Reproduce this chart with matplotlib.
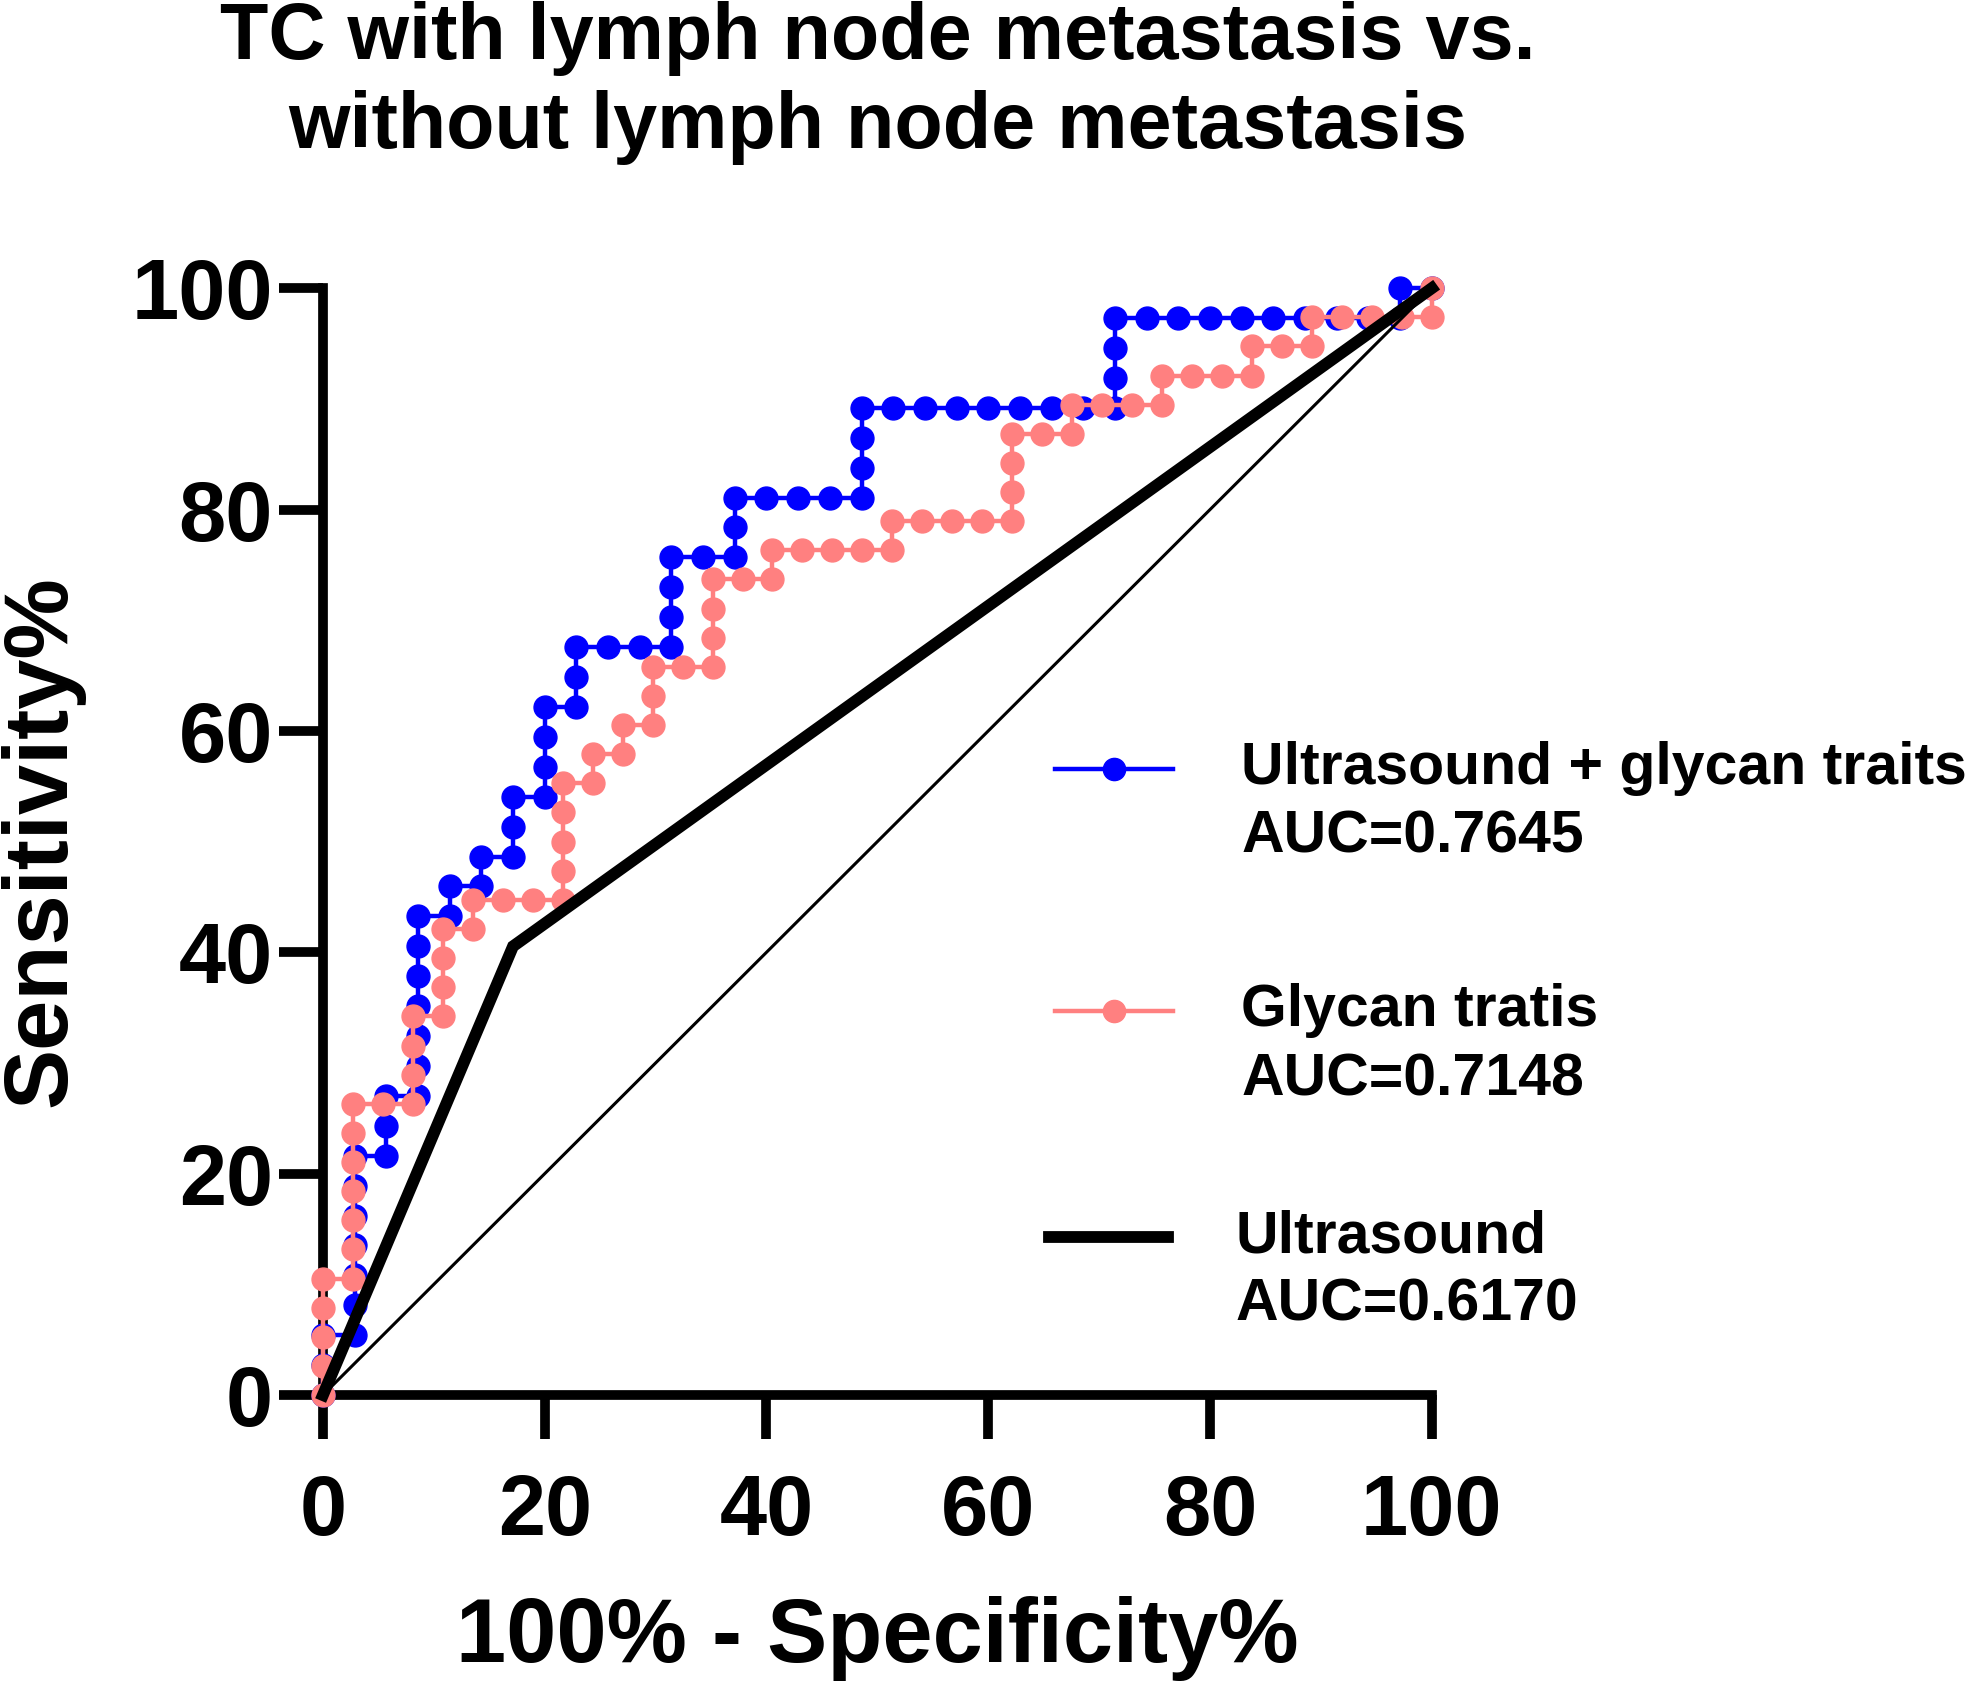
import matplotlib
matplotlib.use("Agg")
import matplotlib.pyplot as plt
from matplotlib.lines import Line2D
import numpy as np

plt.rcParams['font.family'] = ['Liberation Sans', 'DejaVu Sans']
plt.rcParams['font.weight'] = 'bold'

# ROC points as counts (false positives, true positives)
combo_neg = 35
combo_pos = 37
combo_fp = [0, 0, 0, 1, 1, 1, 1, 1, 1, 1, 2, 2, 2, 3, 3, 3, 3, 3, 3, 3, 4, 4, 5, 5,
            6, 6, 6, 7, 7, 7, 7, 8, 8, 8, 9, 10, 11, 11, 11, 11, 12, 13, 13, 13,
            14, 15, 16, 17, 17, 17, 17, 18, 19, 20, 21, 22, 23, 24, 25, 25, 25, 25,
            26, 27, 28, 29, 30, 31, 32, 33, 34, 34, 35]
combo_tp = [0, 1, 2, 2, 3, 4, 5, 6, 7, 8, 8, 9, 10, 10, 11, 12, 13, 14, 15, 16, 16, 17, 17, 18,
            18, 19, 20, 20, 21, 22, 23, 23, 24, 25, 25, 25, 25, 26, 27, 28, 28, 28, 29, 30,
            30, 30, 30, 30, 31, 32, 33, 33, 33, 33, 33, 33, 33, 33, 33, 34, 35, 36,
            36, 36, 36, 36, 36, 36, 36, 36, 36, 37, 37]

glycan_neg = 37
glycan_pos = 38
glycan_fp = [0, 0, 0, 0, 0, 1, 1, 1, 1, 1, 1, 1, 2, 3, 3, 3, 3, 4, 4, 4, 4, 5, 5,
             6, 7, 8, 8, 8, 8, 8, 9, 9, 10, 10, 11, 11, 11, 12, 13, 13, 13, 13,
             14, 15, 15, 16, 17, 18, 19, 19, 20, 21, 22, 23, 23, 23, 23, 24, 25, 25,
             26, 27, 28, 28, 29, 30, 31, 31, 32, 33, 33, 34, 35, 36, 37, 37]
glycan_tp = [0, 1, 2, 3, 4, 4, 5, 6, 7, 8, 9, 10, 10, 10, 11, 12, 13, 13, 14, 15, 16, 16, 17,
             17, 17, 17, 18, 19, 20, 21, 21, 22, 22, 23, 23, 24, 25, 25, 25, 26, 27, 28,
             28, 28, 29, 29, 29, 29, 29, 30, 30, 30, 30, 30, 31, 32, 33, 33, 33, 34,
             34, 34, 34, 35, 35, 35, 35, 36, 36, 36, 37, 37, 37, 37, 37, 38]

us_neg = 35
us_pos = 37
us_fp = [0, 6, 35]
us_tp = [0, 15, 37]

labels = ["Ultrasound + glycan traits", "Glycan tratis", "Ultrasound"]
aucs = ["AUC=0.7645", "AUC=0.7148", "AUC=0.6170"]
ticks = [0, 20, 40, 60, 80, 100]

blue = '#0000FF'
pink = '#FF8080'

fig = plt.figure(figsize=(19.69, 16.91), dpi=100)
ax = fig.add_axes([0.1640, 0.1750, 0.5632, 0.6546])

x1 = 100 * np.array(combo_fp) / combo_neg
y1 = 100 * np.array(combo_tp) / combo_pos
x2 = 100 * np.array(glycan_fp) / glycan_neg
y2 = 100 * np.array(glycan_tp) / glycan_pos
x3 = 100 * np.array(us_fp) / us_neg
y3 = 100 * np.array(us_tp) / us_pos

ax.plot(x1, y1, color=blue, lw=3.2, marker='o', ms=16.5, mec=blue, clip_on=False, zorder=3)
ax.plot(x2, y2, color=pink, lw=3.2, marker='o', ms=16.5, mec=pink, clip_on=False, zorder=4)
ax.plot(x3, y3, color='black', lw=8.5, solid_joinstyle='miter', clip_on=False, zorder=5)
ax.plot([0, 100], [0, 100], color='black', lw=2.2, clip_on=False, zorder=5)

ax.set_xlim(0, 100)
ax.set_ylim(0, 100)
ax.set_xticks(ticks)
ax.set_yticks(ticks)
for s in ['top', 'right']:
    ax.spines[s].set_visible(False)
for s in ['left', 'bottom']:
    ax.spines[s].set_linewidth(7)
ax.tick_params(axis='both', direction='out', length=32, width=7, labelsize=61)
ax.tick_params(axis='y', pad=4)
ax.tick_params(axis='x', pad=24)

ax.set_xlabel("100% - Specificity%", fontsize=65, fontweight='bold')
ax.set_ylabel("Sensitivity%", fontsize=65, fontweight='bold')
ax.xaxis.set_label_coords(0.5, -0.220)
ax.xaxis.label.set_va('center')
ax.yaxis.set_label_coords(-0.253, 0.5)
ax.yaxis.label.set_va('center')

fig.text(0.4460, 0.951, "TC with lymph node metastasis vs.\nwithout lymph node metastasis",
         ha='center', va='center', fontsize=57, fontweight='bold', linespacing=1.25)

# legend drawn by hand, handle aligned with the first text line
leg_rows = [0.566, 0.347, 0.143]
leg_colors = [blue, pink, 'black']
for k in range(3):
    yy = leg_rows[k]
    if k < 2:
        ax.add_line(Line2D([0.660, 0.767], [yy, yy], transform=ax.transAxes, color=leg_colors[k],
                           lw=3.2, clip_on=False))
        ax.add_line(Line2D([0.7135], [yy], transform=ax.transAxes, color=leg_colors[k],
                           marker='o', ms=16, clip_on=False))
        tx = 0.828
    else:
        ax.add_line(Line2D([0.655, 0.762], [yy, yy], transform=ax.transAxes, color='black',
                           lw=8.5, clip_on=False))
        tx = 0.823
    ax.text(tx, yy, labels[k], transform=ax.transAxes, ha='left', va='center',
            fontsize=42.5, fontweight='bold')
    ax.text(tx, yy - 0.062, aucs[k], transform=ax.transAxes, ha='left', va='center',
            fontsize=42.5, fontweight='bold')

fig.savefig("out.png", dpi=100)
